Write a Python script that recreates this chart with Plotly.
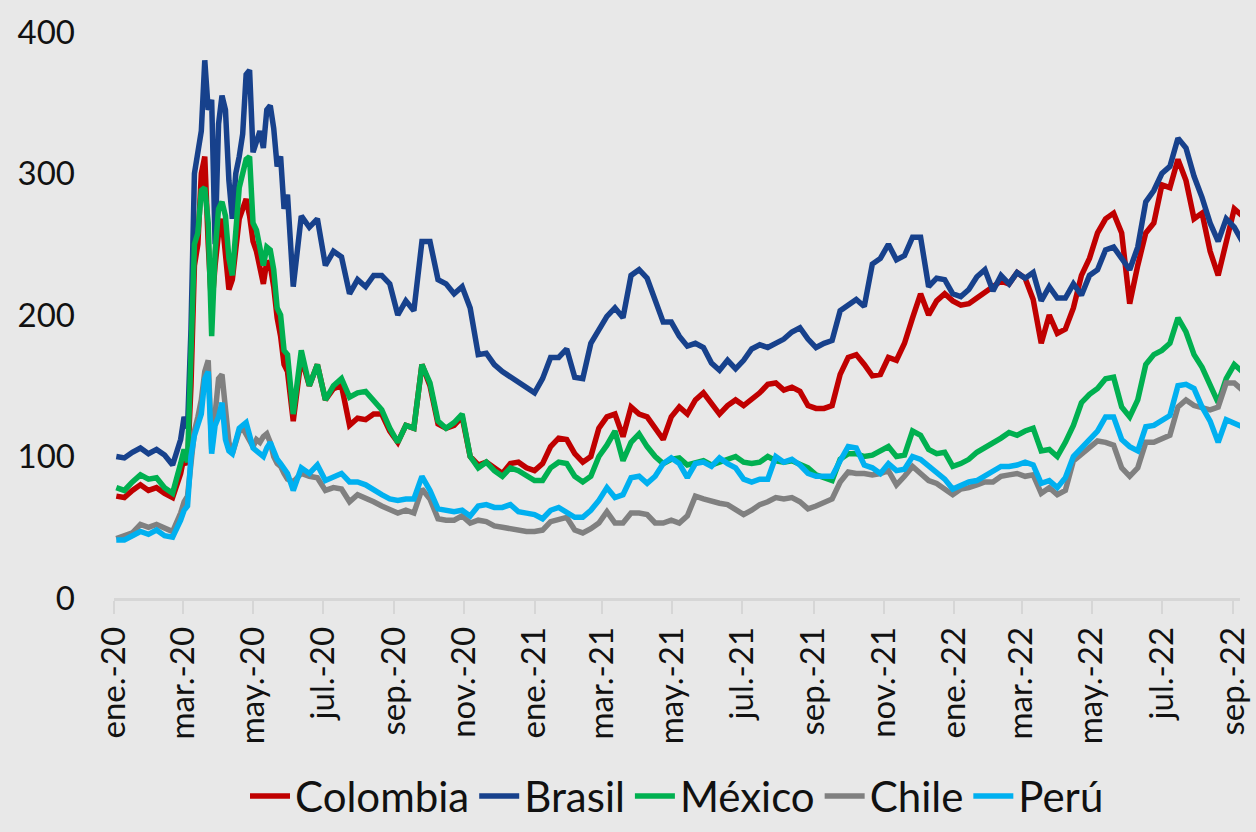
import pandas as pd
import plotly.graph_objects as go

# weekly in Jan-Feb 2020, every 3 days in the Mar-May 2020 turmoil, weekly afterwards
fechas = (list(pd.date_range('2020-01-03', '2020-02-28', freq='7D'))
          + list(pd.date_range('2020-03-02', '2020-05-31', freq='3D'))
          + list(pd.date_range('2020-06-05', '2022-09-09', freq='7D')))

colombia = [72, 71, 76, 80, 76, 78, 74, 71, 88,
            100, 94, 150, 235, 250, 300, 312, 250, 205, 235, 258, 268, 238, 218, 225, 245,
            268, 275, 282, 270, 252, 245, 232, 222, 238, 235, 220, 198, 185, 165, 160,
            125, 170, 150, 165, 140, 148, 150, 122, 127, 126,
            130, 130, 118, 110, 122, 120, 165, 150, 123, 120,
            122, 128, 100, 94, 96, 92, 88, 95, 96, 92,
            90, 95, 107, 113, 112, 102, 96, 100, 120, 128,
            130, 114, 135, 130, 128, 120, 112, 128, 135, 130,
            140, 145, 138, 130, 136, 140, 136, 140, 145, 151,
            152, 147, 149, 146, 136, 134, 134, 136, 158, 170,
            172, 165, 157, 158, 170, 168, 180, 198, 215, 200,
            210, 215, 210, 207, 208, 212, 216, 220, 224, 222,
            230, 226, 211, 180, 200, 187, 190, 205, 228, 240,
            258, 268, 272, 258, 208, 235, 258, 265, 292, 290,
            310, 295, 268, 272, 245, 228, 253, 275, 270]

brasil = [100, 99, 103, 106, 102, 105, 101, 94, 112,
          128, 120, 190, 300, 318, 330, 380, 345, 352, 250, 335, 355, 345, 295, 268, 300,
          312, 328, 370, 373, 315, 322, 330, 318, 345, 348, 332, 305, 312, 275, 285,
          220, 270, 262, 268, 235, 245, 241, 215, 225, 220,
          228, 228, 222, 200, 210, 203, 252, 252, 225, 222,
          215, 220, 205, 172, 173, 165, 160, 156, 152, 148,
          145, 155, 170, 170, 176, 156, 155, 180, 190, 199,
          205, 198, 228, 232, 226, 210, 195, 195, 185, 178,
          180, 177, 166, 161, 168, 162, 168, 176, 179, 177,
          180, 183, 188, 191, 183, 177, 180, 182, 203, 207,
          211, 206, 236, 240, 250, 239, 242, 255, 255, 220,
          226, 225, 215, 213, 218, 227, 232, 217, 228, 222,
          230, 226, 230, 210, 220, 212, 212, 222, 214, 228,
          232, 246, 248, 240, 232, 248, 280, 288, 300, 305,
          325, 318, 298, 283, 265, 252, 268, 262, 252]

mexico = [78, 76, 82, 87, 84, 85, 78, 74, 95,
          105, 96, 165, 250, 258, 288, 290, 265, 185, 245, 275, 280, 270, 240, 228, 262,
          290, 300, 310, 312, 265, 260, 248, 235, 248, 246, 232, 205, 200, 175, 172,
          130, 175, 150, 165, 140, 150, 155, 142, 145, 146,
          140, 133, 120, 110, 122, 120, 165, 152, 125, 120,
          124, 130, 100, 92, 96, 90, 86, 92, 90, 86,
          83, 83, 92, 96, 95, 86, 82, 86, 100, 108,
          118, 97, 110, 116, 107, 100, 95, 98, 99, 94,
          96, 97, 94, 96, 98, 100, 96, 95, 96, 100,
          97, 96, 97, 95, 92, 87, 85, 83, 98, 102,
          102, 100, 101, 104, 107, 100, 101, 118, 115, 105,
          102, 103, 93, 95, 98, 103, 106, 109, 113, 117,
          115, 118, 120, 104, 105, 100, 110, 122, 138, 144,
          148, 155, 156, 135, 128, 140, 165, 172, 175, 180,
          198, 188, 172, 163, 150, 138, 155, 165, 160]

chile = [42, 44, 46, 52, 50, 52, 50, 47, 60,
         68, 72, 95, 118, 128, 140, 160, 168, 105, 130, 155, 158, 135, 110, 102, 112,
         118, 120, 115, 110, 107, 112, 110, 114, 116, 110, 100, 95, 93, 88, 84,
         82, 88, 86, 85, 76, 78, 77, 68, 73, 71,
         68, 65, 62, 60, 62, 60, 77, 70, 56, 55,
         55, 58, 53, 55, 54, 51, 50, 49, 48, 47,
         47, 48, 54, 56, 57, 48, 46, 49, 53, 61,
         53, 53, 60, 60, 59, 53, 53, 55, 53, 58,
         72, 70, 68, 67, 66, 62, 59, 62, 66, 68,
         71, 70, 71, 68, 63, 65, 67, 70, 82, 89,
         88, 88, 87, 88, 90, 80, 86, 93, 88, 83,
         81, 77, 73, 77, 78, 80, 82, 82, 86, 87,
         88, 86, 87, 74, 78, 73, 76, 97, 102, 107,
         111, 110, 108, 92, 86, 92, 110, 110, 112, 115,
         135, 140, 136, 134, 133, 135, 152, 152, 147]

peru = [41, 41, 44, 47, 45, 48, 44, 43, 55,
        62, 65, 100, 115, 122, 130, 155, 160, 102, 122, 128, 138, 112, 104, 102, 112,
        120, 122, 124, 115, 106, 104, 102, 100, 106, 110, 104, 98, 95, 92, 88,
        76, 92, 88, 94, 83, 86, 88, 82, 82, 80,
        76, 73, 70, 69, 70, 70, 86, 76, 63, 62,
        61, 62, 58, 65, 66, 64, 64, 66, 61, 60,
        59, 56, 62, 64, 61, 57, 57, 62, 69, 78,
        71, 73, 85, 86, 81, 86, 95, 99, 95, 85,
        95, 96, 93, 99, 95, 92, 84, 82, 84, 84,
        100, 96, 98, 94, 88, 86, 86, 86, 97, 107,
        106, 94, 92, 88, 95, 90, 91, 100, 98, 93,
        88, 84, 77, 80, 82, 83, 86, 90, 93, 93,
        94, 96, 94, 81, 83, 78, 85, 100, 106, 113,
        118, 128, 128, 112, 107, 104, 121, 122, 125, 129,
        150, 151, 148, 135, 125, 110, 126, 124, 121]

meses = pd.date_range('2020-01-01', '2022-09-01', freq='2MS')
etiquetas = ['ene.-20', 'mar.-20', 'may.-20', 'jul.-20', 'sep.-20', 'nov.-20',
             'ene.-21', 'mar.-21', 'may.-21', 'jul.-21', 'sep.-21', 'nov.-21',
             'ene.-22', 'mar.-22', 'may.-22', 'jul.-22', 'sep.-22']

series = [('Colombia', colombia, '#c00000'),
          ('Brasil', brasil, '#17418c'),
          ('México', mexico, '#00b050'),
          ('Chile', chile, '#808080'),
          ('Perú', peru, '#00b0f0')]

fig = go.Figure()
for nombre, valores, color in series:
    fig.add_trace(go.Scatter(x=fechas, y=valores, name=nombre, mode='lines',
                             line=dict(color=color, width=5.5)))

bg = '#e8e8e8'
fig.update_layout(width=1256, height=832,
                  paper_bgcolor=bg, plot_bgcolor=bg,
                  margin=dict(l=114, r=16, t=32, b=234, autoexpand=False),
                  font=dict(family='Lato, sans-serif', color='#111111'),
                  legend=dict(orientation='h', x=0.5, xanchor='center',
                              y=-0.35, yanchor='middle', itemwidth=40,
                              font=dict(size=42, family='Lato, sans-serif')),
                  showlegend=True)

fig.update_xaxes(range=['2020-01-01', '2022-09-07'], automargin=False,
                 tickvals=meses, ticktext=etiquetas, tickangle=-90,
                 tickfont=dict(size=33, family='Liberation Sans Narrow, Lato, sans-serif'),
                 showgrid=False, zeroline=False,
                 showline=True, linecolor='#d6d6d6', linewidth=2.5,
                 ticks='outside', ticklen=13, tickwidth=2, tickcolor='#d6d6d6')
fig.update_yaxes(range=[0, 400], tickvals=[0, 100, 200, 300, 400], automargin=False,
                 tickfont=dict(size=33), ticklabelstandoff=38,
                 showgrid=False, zeroline=False, showline=False)

# the page keeps the browser's 8px body margin otherwise
fig.write_html('out.html', config={'displayModeBar': False},
               post_script="document.body.style.margin='0';document.body.style.overflow='hidden';")
